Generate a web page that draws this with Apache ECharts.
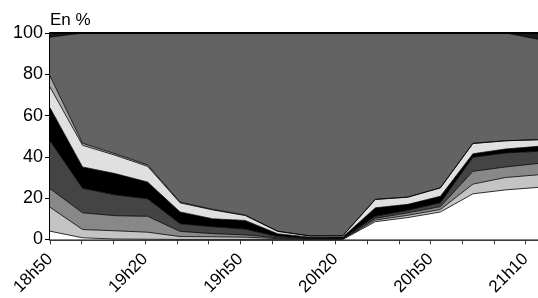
<!DOCTYPE html>
<html>
<head>
<meta charset="utf-8">
<script src="https://cdn.jsdelivr.net/npm/echarts@6/dist/echarts.min.js"></script>
<style>
    html, body { margin: 0; padding: 0; background: #fff; }
    #main { width: 538px; height: 298px; }
</style>
</head>
<body>
<div id="main"></div>
<script>
    // time points of the data (one every ~10 min)
    var categories = ['18h50', '19h00', '19h10', '19h20', '19h30', '19h40', '19h50', '20h00',
        '20h10', '20h20', '20h30', '20h40', '20h50', '20h57', '21h03', '21h10'];
    // ticks of the time axis and the labelled ones
    var tickLabels = ['18h50', '19h20', '19h50', '20h20', '20h50', '21h10'];
    var tickCount = 16;

    // stacked shares, bottom to top, in %
    var sWhite  = [4.0, 0.8, 0.2, 0.1, 0, 0, 0, 0, 0, 0, 8.6, 10.6, 13.3, 22.1, 24.0, 25.2];
    var sLight  = [11.6, 4.0, 4.0, 3.4, 1.4, 1.3, 1.1, 0.4, 0.2, 0.2, 0.8, 1.1, 1.2, 4.7, 6.0, 6.1];
    var sMedium = [9.0, 8.1, 7.3, 7.7, 2.5, 1.5, 1.1, 0.4, 0.2, 0.2, 0.8, 1.2, 1.4, 6.2, 5.1, 5.5];
    var sDark   = [23.2, 11.9, 10.1, 8.5, 3.7, 3.4, 2.8, 0.6, 0.3, 0.3, 1.0, 1.2, 1.9, 6.8, 6.8, 5.9];
    var sBlack  = [16.0, 10.3, 10.3, 8.1, 5.7, 3.8, 4.2, 1.3, 0.4, 0.5, 4.1, 2.9, 3.1, 1.7, 1.9, 2.4];
    var sPale   = [10.0, 10.5, 8.9, 7.6, 4.4, 4.3, 2.4, 1.2, 0.6, 0.6, 4.1, 3.5, 4.1, 5.0, 4.0, 3.2];
    var sBand   = [5.4, 1.0, 0.7, 0.7, 0.4, 0.3, 0.2, 0.1, 0, 0, 0, 0, 0, 0, 0, 0];
    var sBig    = [18.8, 53.4, 58.5, 63.9, 81.9, 85.4, 88.2, 96.0, 98.3, 98.2, 80.6, 79.5, 75.0, 53.5, 52.2, 48.7];
    var sTop    = [2, 0, 0, 0, 0, 0, 0, 0, 0, 0, 0, 0, 0, 0, 0, 3];

    var layers = [
        [sWhite, '#ffffff'],
        [sLight, '#c4c4c4'],
        [sMedium, '#888888'],
        [sDark, '#444444'],
        [sBlack, '#000000'],
        [sPale, '#e0e0e0'],
        [sBand, '#a8a8a8'],
        [sBig, '#636363'],
        [sTop, '#1a1a1a']
    ];

    var series = [];
    for (var i = 0; i < layers.length; ++i) {
        series.push({
            type: 'line',
            stack: 'total',
            xAxisIndex: 0,
            data: layers[i][0],
            symbol: 'none',
            areaStyle: { color: layers[i][1], opacity: 1 },
            lineStyle: { color: '#000', width: i === layers.length - 1 ? 2 : 0.8 }
        });
    }

    var ticks = [];
    for (var k = 0; k < tickCount; ++k) ticks.push(k);
    var labelTicks = [0, 3, 6, 9, 12, 15];

    var option = {
        animation: false,
        textStyle: { fontFamily: 'Liberation Sans, Arial, sans-serif' },
        grid: { left: 50, right: 0, top: 33, bottom: 55 },
        xAxis: [
            {
                type: 'category',
                data: categories,
                boundaryGap: false,
                show: false
            },
            {
                type: 'value',
                position: 'bottom',
                min: 0,
                max: 15.39,
                splitLine: { show: false },
                axisLine: { lineStyle: { color: '#3a3a3a', width: 2 } },
                axisTick: { length: 5, customValues: ticks, lineStyle: { color: '#3a3a3a', width: 1 } },
                axisLabel: {
                    customValues: labelTicks,
                    rotate: 45,
                    fontSize: 17,
                    color: '#000',
                    margin: 17,
                    formatter: function (v) {
                        return tickLabels[labelTicks.indexOf(Math.round(v))] || '';
                    }
                }
            }
        ],
        yAxis: {
            type: 'value',
            min: 0,
            max: 100,
            interval: 20,
            name: 'En %',
            nameLocation: 'end',
            nameGap: 4,
            nameTextStyle: { align: 'left', fontSize: 17, color: '#000' },
            splitLine: { show: false },
            axisLine: { show: true, lineStyle: { color: '#000', width: 2 } },
            axisTick: { show: true, length: 5, lineStyle: { color: '#000' } },
            axisLabel: { fontSize: 18, color: '#000', margin: 7 }
        },
        series: series
    };

    var myChart = echarts.init(document.getElementById('main'));
    myChart.setOption(option);
</script>
</body>
</html>
